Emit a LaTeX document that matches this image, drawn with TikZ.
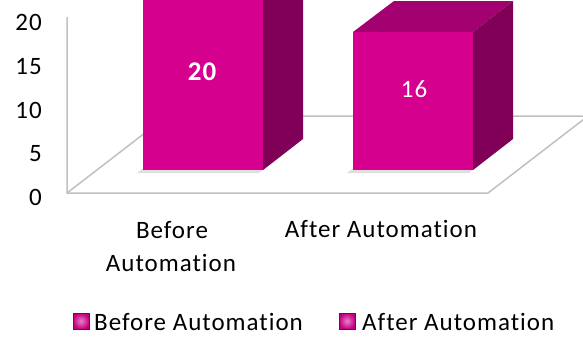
\documentclass[tikz,border=0pt]{standalone}
\usepackage{fontspec}
\setmainfont{Carlito}[LetterSpace=4, Ligatures={NoCommon,NoRequired,NoContextual}]

\definecolor{predni}{RGB}{214,0,143}
\definecolor{bocni}{RGB}{128,0,88}
\definecolor{horni}{RGB}{163,0,112}
\definecolor{podlaha}{RGB}{192,192,192}

\begin{document}
\begin{tikzpicture}[x=1pt, y=-1pt, font=\fontsize{25}{33}\selectfont,
  every node/.style={inner sep=0pt},
  legenda/.style={minimum size=16pt, draw=bocni, line width=0.6pt,
                  inner color=predni!50, outer color=predni!90!black}]
\useasboundingbox (0,0) rectangle (583,338);
\clip (0,0) rectangle (583,338);

% podlaha a osa
\draw[podlaha, line width=1.5pt] (67,17) -- (67,193) -- (488,193) -- (588,116);
\draw[podlaha, line width=1.5pt] (67,193) -- (167,116) -- (588,116);

% stiny
\fill[gray!25] (137,173) -- (259,173) -- (299,142) -- (177,142) -- cycle;
\fill[gray!25] (347,173) -- (469,173) -- (509,142) -- (387,142) -- cycle;

% sloupec 1
\fill[predni] (143,-2) rectangle (263,170);
\fill[bocni] (263,170) -- (303,139) -- (303,-33) -- (263,-2) -- cycle;

% sloupec 2
\fill[horni] (353,32) -- (394,1) -- (513,1) -- (473,32) -- cycle;
\fill[predni] (353,32) rectangle (473,170);
\fill[bocni] (473,170) -- (513,139) -- (513,1) -- (473,32) -- cycle;

% hodnoty
\node[white, font=\fontsize{27}{33}\selectfont\bfseries, anchor=base] (hodnota1) at (202,80) {20};
\node[white, anchor=base] (hodnota2) at (414,97) {16};

% osa y
\node[anchor=base east] (y20) at (42,30) {20};
\node[anchor=base east] (y15) at (42,74) {15};
\node[anchor=base east] (y10) at (42,118) {10};
\node[anchor=base east] (y5) at (42,161) {5};
\node[anchor=base east] (y0) at (42,205) {0};

% kategorie
\node[anchor=base] (pred) at (172,238) {Before};
\node[anchor=base] (predb) at (171,271) {Automation};
\node[anchor=base] (po) at (381,237) {After Automation};

% legenda
\node[legenda] (leg1) at (81,321) {};
\node[anchor=base west] (leg1text) at (94,330) {Before Automation};
\node[legenda] (leg2) at (347,321) {};
\node[anchor=base west] (leg2text) at (362,330) {After Automation};

\end{tikzpicture}
\end{document}
